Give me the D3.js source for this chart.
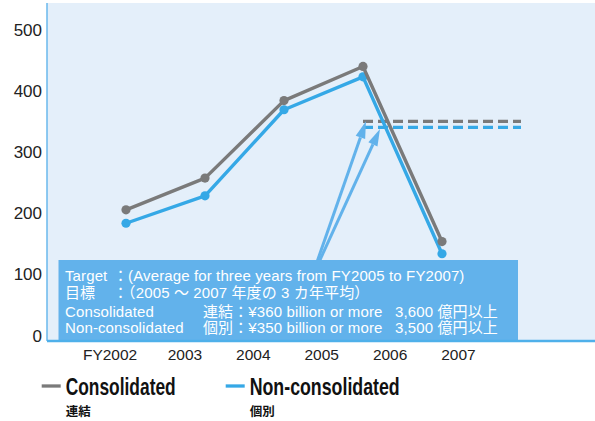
<!DOCTYPE html>
<html>
<head>
<meta charset="utf-8">
<script src="https://cdn.jsdelivr.net/npm/d3@7"></script>
<style>
  body { margin: 0; background: #fff; }
  svg { display: block; }
  .narrow { font-family: "Liberation Sans Narrow", "Arial Narrow", "Liberation Sans", Arial, sans-serif; }
  .box text { font-family: "Liberation Sans", Arial, "Noto Sans CJK JP", sans-serif; font-size: 15px; letter-spacing: 0.12px; fill: #fff; }
</style>
</head>
<body>
<div id="chart"></div>
<script>
// data (billion yen)
var years = [2002, 2003, 2004, 2005, 2006, 2007];
var yearLabels = ["FY2002", "2003", "2004", "2005", "2006", "2007"];
var dataYears = [2002, 2003, 2004, 2005, 2006];
var consolidated = [215, 267, 394, 450, 163];
var nonConsolidated = [193, 238, 379, 433, 143];
var targetYears = [2005, 2007];
var targetConsolidated = 360;
var targetNonConsolidated = 350;
var yTicks = [0, 100, 200, 300, 400, 500];

var width = 595, height = 421;
var grey = "#7a7a7a", blue = "#35a8e6", boxBlue = "#62b2eb";

var svg = d3.select("#chart").append("svg")
  .attr("width", width)
  .attr("height", height);

var x = d3.scalePoint().domain(years).range([126, 521]);
// the year labels in the original do not sit under the points
var xLabel = d3.scalePoint().domain(years).range([116.6, 458.5]);
var y = d3.scaleLinear().domain([0, 554]).range([341, 3]);

// plot background
svg.append("rect")
  .attr("x", 47).attr("y", y(554))
  .attr("width", width - 47).attr("height", y(0) - y(554))
  .attr("fill", "#e4effa");

svg.append("line")
  .attr("x1", 47).attr("x2", 47).attr("y1", y(554)).attr("y2", y(0))
  .attr("stroke", "#6ab8ec").attr("stroke-width", 1.5);

// y axis
var yAxis = svg.append("g")
  .attr("transform", "translate(42,0)")
  .call(d3.axisLeft(y).tickValues(yTicks).tickSize(0).tickPadding(0));
yAxis.select(".domain").remove();
yAxis.selectAll("text")
  .attr("class", "narrow")
  .attr("dy", 0)
  .style("font-size", "17px")
  .style("fill", "#222");

// target dashed lines
var targets = [
  { v: targetConsolidated, c: grey },
  { v: targetNonConsolidated, c: blue }
];
targets.forEach(function (t) {
  svg.append("line")
    .attr("x1", x(targetYears[0])).attr("x2", x(targetYears[1]))
    .attr("y1", y(t.v)).attr("y2", y(t.v))
    .attr("stroke", t.c).attr("stroke-width", 3.2)
    .attr("stroke-dasharray", "10,5");
});

// arrows from the note box to the targets
var arrowColor = boxBlue;
var arrows = [
  { from: [x(2004) + 33, y(0) - 79], to: [x(2005) + 3, y(targetConsolidated)] },
  { from: [x(2004) + 35, y(0) - 79], to: [x(2005) + 17, y(targetNonConsolidated) + 1.5] }
];
arrows.forEach(function (a) {
  var dx = a.to[0] - a.from[0], dy = a.to[1] - a.from[1];
  var len = Math.sqrt(dx * dx + dy * dy);
  var ux = dx / len, uy = dy / len;
  var headLen = 17, headW = 5;
  var bx = a.to[0] - ux * headLen, by = a.to[1] - uy * headLen;
  svg.append("line")
    .attr("x1", a.from[0]).attr("y1", a.from[1])
    .attr("x2", bx).attr("y2", by)
    .attr("stroke", arrowColor).attr("stroke-width", 3);
  svg.append("polygon")
    .attr("points", [
      [a.to[0], a.to[1]],
      [bx - uy * headW, by + ux * headW],
      [bx + uy * headW, by - ux * headW]
    ].map(function (p) { return p.join(","); }).join(" "))
    .attr("fill", arrowColor);
});

// series
var line = d3.line()
  .x(function (d) { return x(d.year); })
  .y(function (d) { return y(d.value); });

function series(values, color) {
  var pts = dataYears.map(function (yr, i) { return { year: yr, value: values[i] }; });
  svg.append("path")
    .datum(pts)
    .attr("d", line)
    .attr("fill", "none")
    .attr("stroke", color)
    .attr("stroke-width", 3.4)
    .attr("stroke-linejoin", "round");
  svg.selectAll(null)
    .data(pts)
    .enter()
    .append("circle")
    .attr("cx", function (d) { return x(d.year); })
    .attr("cy", function (d) { return y(d.value); })
    .attr("r", 4.6)
    .attr("fill", color);
}
series(nonConsolidated, blue);
series(consolidated, grey);

// note box
var box = svg.append("g").attr("class", "box");
box.append("rect")
  .attr("x", 58.5).attr("y", 260)
  .attr("width", 459.5).attr("height", y(0) - 260)
  .attr("fill", boxBlue);

var noteRows = [
  ["Target", "：(Average for three years from FY2005 to FY2007)", "", ""],
  ["目標", "：（2005 ～ 2007 年度の 3 カ年平均）", "", ""],
  ["Consolidated", "", "連結：¥360 billion or more", "3,600 億円以上"],
  ["Non-consolidated", "", "個別：¥350 billion or more", "3,500 億円以上"]
];
var rowBase = [280.7, 298.3, 316.7, 333.3];
var colX = [65, 113, 203, 395];
noteRows.forEach(function (row, i) {
  row.forEach(function (txt, j) {
    if (!txt) return;
    box.append("text")
      .attr("x", colX[j]).attr("y", rowBase[i])
      .text(txt);
  });
});

// bottom axis line
svg.append("line")
  .attr("x1", 47).attr("x2", width).attr("y1", y(0)).attr("y2", y(0))
  .attr("stroke", "#4fb0ea").attr("stroke-width", 2.5);

// x labels
svg.selectAll(".xlab")
  .data(years)
  .enter()
  .append("text")
  .attr("class", "narrow")
  .attr("x", function (d) { return xLabel(d); })
  .attr("y", 360)
  .attr("dx", function (d, i) { return i === 0 ? -6.5 : 0; })
  .attr("text-anchor", "middle")
  .style("font-size", "15.5px")
  .style("fill", "#222")
  .text(function (d, i) { return yearLabels[i]; });

// legend
var legend = [
  { x: 41.7, name: "Consolidated", jp: "連結", c: grey, w: 110 },
  { x: 225.7, name: "Non-consolidated", jp: "個別", c: blue, w: 150 }
];
legend.forEach(function (l) {
  svg.append("line")
    .attr("x1", l.x).attr("x2", l.x + 19)
    .attr("y1", 386).attr("y2", 386)
    .attr("stroke", l.c).attr("stroke-width", 3.3);
  svg.append("text")
    .attr("class", "narrow")
    .attr("x", l.x + 24).attr("y", 395)
    .attr("textLength", l.w)
    .attr("lengthAdjust", "spacingAndGlyphs")
    .style("font-size", "24.5px")
    .style("font-weight", "bold")
    .style("fill", "#111")
    .text(l.name);
  svg.append("text")
    .attr("x", l.x + 24).attr("y", 416)
    .style("font-family", "'Noto Sans CJK JP', sans-serif")
    .style("font-size", "12.5px")
    .style("font-weight", "bold")
    .style("fill", "#111")
    .text(l.jp);
});
</script>
</body>
</html>
